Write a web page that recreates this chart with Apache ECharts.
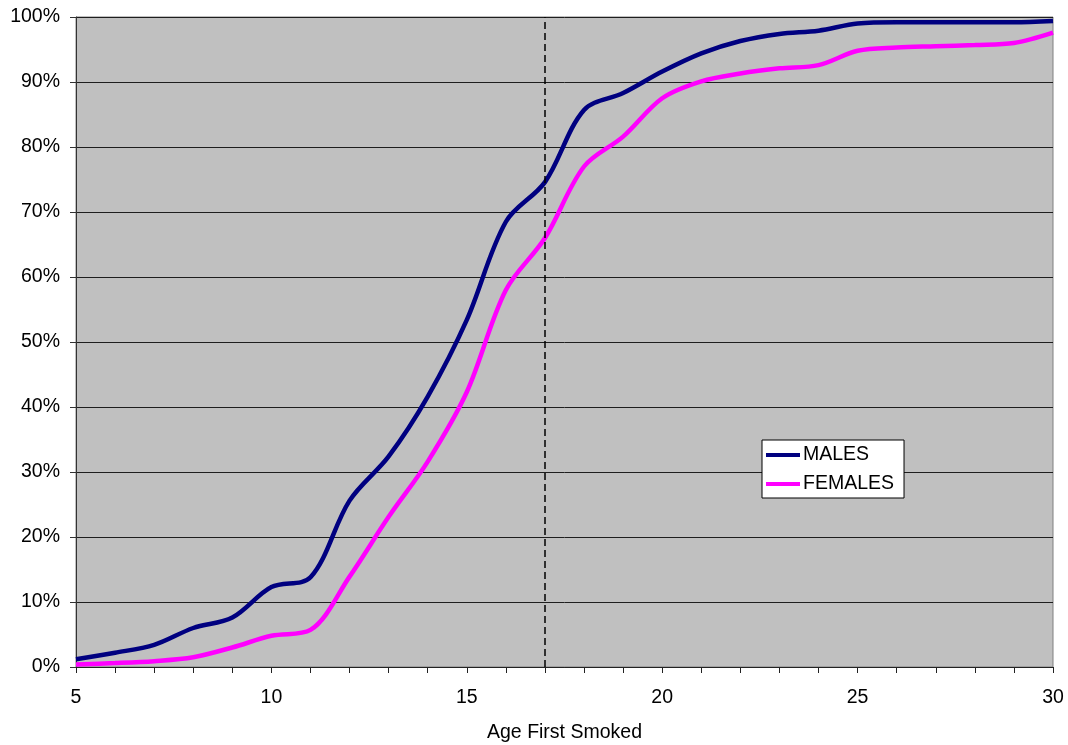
<!DOCTYPE html>
<html>
<head>
<meta charset="utf-8">
<title>Age First Smoked</title>
<script src="https://cdn.jsdelivr.net/npm/echarts@6/dist/echarts.min.js"></script>
<style>
  html, body { margin: 0; padding: 0; background: #ffffff; }
  #chart { width: 1068px; height: 745px; }
</style>
</head>
<body>
<div id="chart"></div>
<script>
// Ages (years) on the horizontal axis
const ages = ['5','6','7','8','9','10','11','12','13','14','15','16','17','18','19','20','21','22','23','24','25','26','27','28','29','30'];

// Cumulative share (%) who had smoked by each age
const males = [1.2, 2.2, 3.4, 6.0, 7.6, 12.3, 13.8, 25.6, 32.4, 41.6, 53.4, 68.5, 74.6, 85.7, 88.3, 91.6, 94.4, 96.3, 97.4, 97.9, 99.0, 99.2, 99.2, 99.2, 99.2, 99.4];
const females = [0.4, 0.6, 0.9, 1.5, 3.0, 4.8, 5.7, 13.9, 23.1, 31.6, 42.3, 58.0, 66.0, 77.0, 81.6, 87.5, 90.1, 91.3, 92.1, 92.6, 94.8, 95.3, 95.5, 95.7, 96.0, 97.6];

// Y axis range and step (%)
const yMin = 0, yMax = 100, yStep = 10;

// Age marked with the dashed reference line
const markAge = '17';

const FONT = '"Liberation Sans", Arial, sans-serif';
const FS = 19.5;

const chart = echarts.init(document.getElementById('chart'), null, { renderer: 'canvas' });

chart.setOption({
  animation: false,
  backgroundColor: '#ffffff',
  textStyle: { fontFamily: FONT, color: '#000' },
  grid: {
    left: 76, right: 15, top: 17, bottom: 78,
    show: true,
    backgroundColor: '#C0C0C0',
    borderColor: '#808080',
    borderWidth: 1,
    outerBoundsMode: 'none'
  },
  legend: {
    orient: 'vertical',
    left: 762, top: 440,
    backgroundColor: '#ffffff',
    borderColor: '#000000',
    borderWidth: 1,
    borderRadius: 0,
    padding: [5, 10, 4, 4],
    icon: 'rect',
    itemWidth: 34,
    itemHeight: 4,
    itemGap: 9,
    textStyle: { fontFamily: FONT, fontSize: FS, color: '#000', lineHeight: 20, padding: [0, 0, 0, -2] },
    data: ['MALES', 'FEMALES']
  },
  xAxis: {
    type: 'category',
    data: ages,
    boundaryGap: false,
    name: 'Age First Smoked',
    nameLocation: 'middle',
    nameGap: 56,
    nameTextStyle: { fontFamily: FONT, fontSize: FS, color: '#000' },
    axisLine: { show: true, lineStyle: { color: '#222', width: 1 } },
    axisTick: { show: true, interval: 0, length: 6, lineStyle: { color: '#222' } },
    axisLabel: { interval: 4, margin: 21, fontFamily: FONT, fontSize: FS, color: '#000' },
    splitLine: { show: false }
  },
  yAxis: {
    type: 'value',
    min: yMin, max: yMax, interval: yStep,
    axisLine: { show: true, lineStyle: { color: '#333', width: 1 } },
    axisTick: { show: true, length: 6, lineStyle: { color: '#333' } },
    axisLabel: { formatter: '{value}%', margin: 16, fontFamily: FONT, fontSize: FS, color: '#000' },
    splitLine: { show: true, lineStyle: { color: '#1e1e1e', width: 1 } }
  },
  series: [
    {
      name: 'MALES',
      type: 'line',
      data: males,
      smooth: 0.33,
      symbol: 'none',
      lineStyle: { color: '#000080', width: 4.5 },
      itemStyle: { color: '#000080' },
      z: 3,
      markLine: {
        silent: true,
        symbol: 'none',
        label: { show: false },
        lineStyle: { color: '#000', type: [7, 4], width: 1.5 },
        data: [{ xAxis: markAge }]
      }
    },
    {
      name: 'FEMALES',
      type: 'line',
      data: females,
      smooth: 0.33,
      symbol: 'none',
      lineStyle: { color: '#FF00FF', width: 4.5 },
      itemStyle: { color: '#FF00FF' },
      z: 2
    }
  ]
});
</script>
</body>
</html>
